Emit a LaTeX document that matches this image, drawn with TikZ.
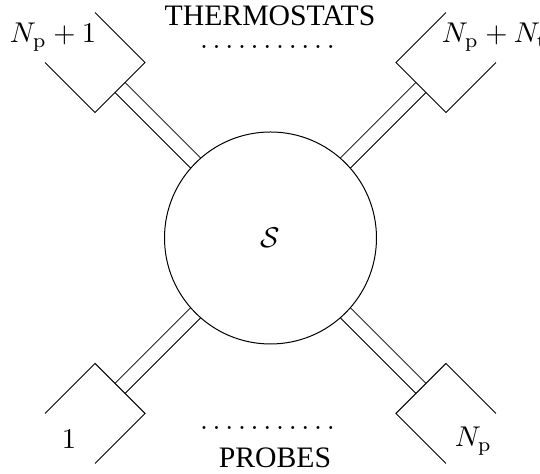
\documentclass[tikz,border=0pt]{standalone}
\usepackage[no-math]{fontspec}
\setmainfont{Liberation Serif}
\usetikzlibrary{calc,backgrounds}
\begin{document}
\begin{tikzpicture}[x=0.35pt,y=0.35pt,
  sysnode/.style={circle, draw, line width=0.35pt, minimum size=74.2pt, inner sep=0pt, outer sep=0pt},
  pipe/.style={draw, line width=0.35pt, double, double distance=4.585pt},
  reservoir/.style={draw, line width=0.35pt},
  lbl/.style={inner sep=0pt, outer sep=0pt},
  caption/.style={lbl, anchor=base, font=\fontsize{10.4}{12}\selectfont}]
\useasboundingbox (0,0) rectangle (540,474);
\node[sysnode] (sys) at (270.5,236) {$\mathcal{S}$};
\foreach \a/\n in {135/b1, 45/b2, 225/b3, 315/b4} {
  \coordinate (\n) at ($(sys.center)+(\a:212.8)$);
  \draw[reservoir, shift={(\n)}, rotate=\a] (70.7,35.35) -- (0,35.35) -- (0,-35.35) -- (70.7,-35.35);
}
\begin{pgfonlayer}{background}
\foreach \a/\n in {135/b1, 45/b2, 225/b3, 315/b4} {
  \draw[pipe] (sys.\a) -- (\n);
}
\end{pgfonlayer}
\node[caption] (thermo) at (270,448) {THERMOSTATS};
\node[lbl] (tdots) at (267.5,427) {$\ldotp\ldotp\ldotp\ldotp\ldotp\ldotp\ldotp\ldotp\ldotp\ldotp\ldotp$};
\node[lbl] (bdots) at (267.5,46) {$\ldotp\ldotp\ldotp\ldotp\ldotp\ldotp\ldotp\ldotp\ldotp\ldotp\ldotp$};
\node[caption] (probes) at (275,6) {PROBES};
\node[lbl, anchor=base west] (l1) at (10,431) {$N_{\mathrm{p}}+1$};
\node[lbl, anchor=base west] (l2) at (442,431) {$N_{\mathrm{p}}+N_{\mathrm{t}}$};
\node[lbl, anchor=base] (l3) at (69,25) {$1$};
\node[lbl, anchor=base west] (l4) at (455,27) {$N_{\mathrm{p}}$};
\end{tikzpicture}
\end{document}
